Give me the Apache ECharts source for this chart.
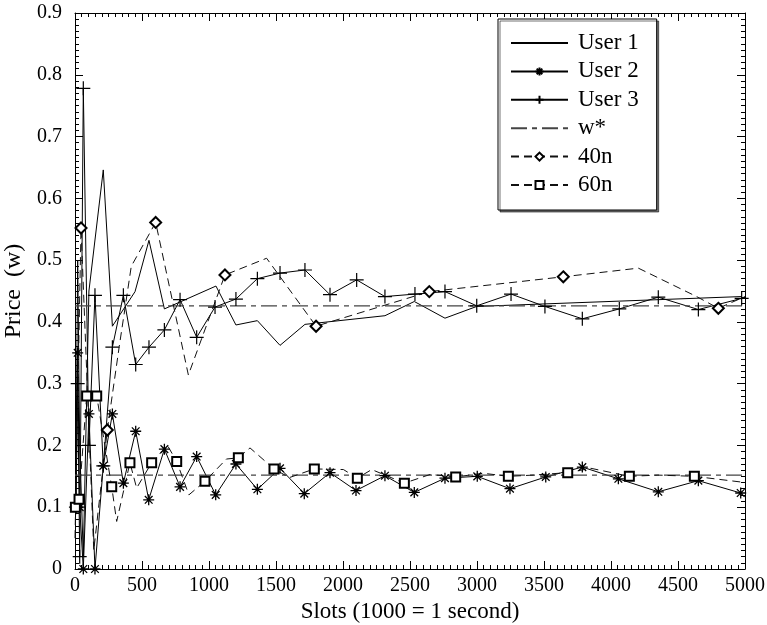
<!DOCTYPE html>
<html>
<head>
<meta charset="utf-8">
<script src="https://cdn.jsdelivr.net/npm/echarts@6/dist/echarts.min.js"></script>
<style>
  html, body { margin: 0; padding: 0; background: #fff; }
  #chart { width: 767px; height: 625px; }
</style>
</head>
<body>
<div id="chart"></div>
<script>
// Price trajectories per slot, [slot, price]
const user1 = [[7,0.15],[20,0.50],[35,0.20],[62,0.02],[104,0.45],[211,0.646],[279,0.393],[448,0.449],[552,0.532],[667,0.421],[1052,0.458],[1201,0.395],[1361,0.402],[1530,0.362],[1716,0.396],[2313,0.410],[2532,0.433],[2761,0.406],[2998,0.425],[4975,0.441]];
const user2 = [[7,0.10],[20,0.35],[35,0.10],[62,0.0],[104,0.251],[149,0.0],[211,0.167],[279,0.251],[361,0.139],[453,0.223],[550,0.112],[667,0.194],[784,0.133],[908,0.182],[1050,0.120],[1201,0.170],[1361,0.129],[1530,0.163],[1711,0.122],[1903,0.156],[2097,0.127],[2313,0.151],[2532,0.124],[2761,0.147],[3002,0.150],[3246,0.130],[3513,0.149],[3786,0.165],[4055,0.146],[4353,0.125],[4652,0.143],[4968,0.123]];
const user3 = [[7,0.10],[20,0.30],[35,0.02],[62,0.778],[104,0.20],[149,0.443],[211,0.167],[279,0.359],[361,0.443],[453,0.331],[552,0.359],[667,0.387],[784,0.436],[908,0.375],[1045,0.424],[1201,0.437],[1361,0.470],[1530,0.479],[1716,0.484],[1903,0.444],[2102,0.468],[2313,0.441],[2537,0.445],[2761,0.449],[2998,0.426],[3254,0.445],[3507,0.425],[3786,0.405],[4062,0.421],[4353,0.440],[4652,0.420],[4975,0.438]];

// Equilibrium prices w*
const wStarHigh = 0.426;
const wStarLow = 0.152;
const slotRange = [0, 5000];

// 40n and 60n runs: vertices, and which vertices carry a marker
const n40 = [[0,0.05],[45,0.552],[140,0.03],[241,0.225],[330,0.36],[420,0.49],[602,0.561],[846,0.314],[1119,0.476],[1430,0.503],[1799,0.393],[2644,0.449],[3644,0.473],[4204,0.487],[4639,0.441],[4801,0.422],[5000,0.441]];
const n40Marked = [0,1,0,1,0,0,1,0,1,0,1,1,1,0,0,1,0];
const n60 = [[3,0.10],[30,0.113],[87,0.28],[162,0.28],[274,0.133],[311,0.077],[410,0.172],[460,0.131],[572,0.172],[690,0.20],[759,0.174],[850,0.12],[970,0.142],[1130,0.178],[1219,0.180],[1306,0.196],[1485,0.162],[1600,0.148],[1786,0.162],[2003,0.161],[2107,0.147],[2214,0.161],[2458,0.139],[2650,0.153],[2841,0.149],[3047,0.155],[3234,0.150],[3420,0.152],[3677,0.156],[3850,0.163],[4137,0.150],[4350,0.152],[4622,0.150],[5000,0.140]];
const n60Marked = [1,1,1,1,1,0,1,0,1,0,1,0,1,0,1,0,1,0,1,0,1,0,1,0,1,0,1,0,1,0,1,0,1,0];

const legendNames = ['User 1', 'User 2', 'User 3', 'w*', '40n', '60n'];

const FONT = 'Liberation Serif';
const ASTERISK = 'path://M5,0L5,10M0,5L10,5M1.5,1.5L8.5,8.5M1.5,8.5L8.5,1.5';
const PLUS = 'path://M5,0L5,10M0,5L10,5';
const CLEAR = 'rgba(0,0,0,0)';

function withMarkers(points, flags) {
  return points.map((p, i) => flags[i] ? { value: p } : { value: p, symbol: 'none' });
}

const tickLabel = { fontFamily: FONT, fontSize: 20, color: '#000' };

function xAxisDef(pos, showLabels) {
  return {
    type: 'value', position: pos, min: 0, max: 5000, interval: 500,
    name: showLabels ? 'Slots (1000 = 1 second)' : '',
    nameLocation: 'middle', nameGap: 26,
    nameTextStyle: { fontFamily: FONT, fontSize: 23, color: '#000' },
    axisLine: { show: true, onZero: false, lineStyle: { color: '#000', width: 1 } },
    axisTick: { show: true, inside: true, length: 8, lineStyle: { color: '#000' } },
    minorTick: { show: true, splitNumber: 10, length: 4, lineStyle: { color: '#000' } },
    axisLabel: Object.assign({ show: showLabels, margin: 7, formatter: v => String(v) }, tickLabel),
    splitLine: { show: false }
  };
}

function yAxisDef(pos, showLabels) {
  return {
    type: 'value', position: pos, min: 0, max: 0.9, interval: 0.1,
    name: showLabels ? 'Price  (w)' : '',
    nameLocation: 'middle', nameGap: 44,
    nameTextStyle: { fontFamily: FONT, fontSize: 24, color: '#000' },
    axisLine: { show: true, onZero: false, lineStyle: { color: '#000', width: 1 } },
    axisTick: { show: true, inside: true, length: 8, lineStyle: { color: '#000' } },
    minorTick: { show: true, splitNumber: 10, length: 4, lineStyle: { color: '#000' } },
    axisLabel: Object.assign({
      show: showLabels, margin: 13,
      formatter: v => (Math.abs(v) < 1e-9 ? '0' : v.toFixed(1))
    }, tickLabel),
    splitLine: { show: false }
  };
}

const chart = echarts.init(document.getElementById('chart'), null, { renderer: 'canvas' });

const option = {
  backgroundColor: '#fff',
  animation: false,
  grid: { left: 75, right: 22, top: 13, bottom: 56, containLabel: false, outerBoundsMode: 'none' },
  xAxis: [xAxisDef('bottom', true), xAxisDef('top', false)],
  yAxis: [yAxisDef('left', true), yAxisDef('right', false)],
  legend: {
    orient: 'vertical', left: 498, top: 19,
    padding: [10, 18, 11, 12],
    itemGap: 0.4, itemWidth: 57, itemHeight: 10,
    backgroundColor: '#fff', borderColor: '#000', borderWidth: 1,
    shadowColor: 'rgba(0,0,0,0.55)', shadowOffsetX: 2, shadowOffsetY: 2, shadowBlur: 0,
    textStyle: { fontFamily: FONT, fontSize: 23, color: '#000', lineHeight: 28, padding: [0, 0, 0, 5] },
    data: legendNames.map(n => (n === 'User 1' || n === 'w*')
      ? { name: n, itemStyle: { color: CLEAR, borderColor: CLEAR, borderWidth: 0 } }
      : { name: n })
  },
  series: [
    {
      name: 'User 1', type: 'line', data: user1, symbol: 'none',
      lineStyle: { color: '#000', width: 1 }, itemStyle: { color: '#000' }
    },
    {
      name: 'User 2', type: 'line', data: user2, symbol: ASTERISK, symbolSize: 11,
      showAllSymbol: true,
      lineStyle: { color: '#000', width: 1 },
      itemStyle: { color: '#000', borderColor: '#000', borderWidth: 1.3 }
    },
    {
      name: 'User 3', type: 'line', data: user3, symbol: PLUS, symbolSize: 14,
      showAllSymbol: true,
      lineStyle: { color: '#000', width: 1 },
      itemStyle: { color: '#000', borderColor: '#000', borderWidth: 1.2 }
    },
    {
      name: 'w*', type: 'line', symbol: 'none',
      data: [[slotRange[0], wStarHigh], [slotRange[1], wStarHigh]],
      lineStyle: { color: '#444', width: 1.2, type: [16, 5, 5, 5] }, itemStyle: { color: '#444' }
    },
    {
      name: 'w*', type: 'line', symbol: 'none',
      data: [[slotRange[0], wStarLow], [slotRange[1], wStarLow]],
      lineStyle: { color: '#444', width: 1.2, type: [16, 5, 5, 5] }, itemStyle: { color: '#444' }
    },
    {
      name: '40n', type: 'line', data: withMarkers(n40, n40Marked),
      symbol: 'emptyDiamond', symbolSize: 11, showAllSymbol: true,
      lineStyle: { color: '#111', width: 1, type: [8, 5] },
      itemStyle: { color: '#000', borderWidth: 1 }
    },
    {
      name: '60n', type: 'line', data: withMarkers(n60, n60Marked),
      symbol: 'emptyRect', symbolSize: 9, showAllSymbol: true,
      lineStyle: { color: '#111', width: 1, type: [8, 5] },
      itemStyle: { color: '#000', borderWidth: 1 }
    }
  ]
};

chart.setOption(option);
</script>
</body>
</html>
